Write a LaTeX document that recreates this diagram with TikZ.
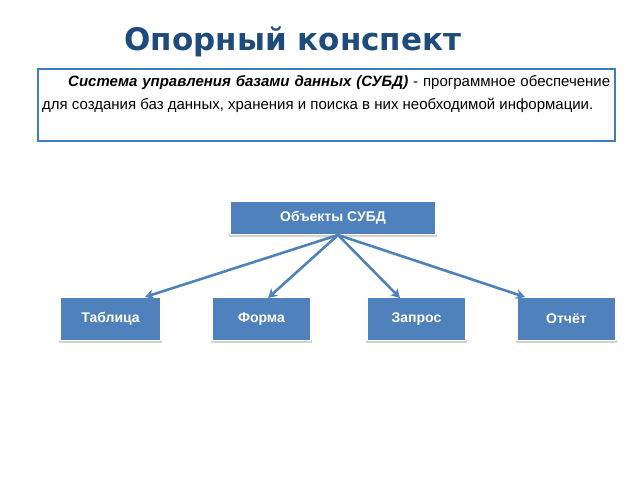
\documentclass[tikz,border=0pt]{standalone}
\usepackage{fontspec}
\setmainfont{Liberation Sans}
\newfontfamily\titlefont{DejaVu Sans}
\usetikzlibrary{arrows.meta}
\definecolor{boxblue}{HTML}{4F81BD}
\definecolor{titleblue}{HTML}{1F4A7E}
\definecolor{frameblue}{HTML}{3C7DC4}
\tikzset{
  obj/.style={fill=boxblue, draw=white, line width=1pt, text=white, font=\bfseries\fontsize{14}{16}\selectfont, inner sep=0pt, anchor=north west},
  shade/.style={fill=gray!35},
  conn/.style={draw=boxblue, line width=2.6pt, -{Stealth[length=9pt,width=10pt]}}
}
\begin{document}
\begin{tikzpicture}[x=1pt,y=-1pt]
\useasboundingbox (0,0) rectangle (640,480);
\node[text=titleblue, font=\titlefont\bfseries\fontsize{31}{34}\selectfont] (title) at (293,42) {Опорный конспект};
\node[draw=frameblue, line width=1.8pt, anchor=north west, minimum width=577pt, minimum height=72pt, inner sep=0pt] (def) at (37,68) {};
\node[anchor=north west, text width=568pt, align=justify, inner sep=0pt, font=\fontsize{15}{23}\selectfont] (deftext) at (42,75)
  {\hspace*{26pt}\textbf{\textit{Система управления базами данных (СУБД)}} - программное обеспечение для создания баз данных, хранения и поиска в них необходимой информации.};
% shadows
\foreach \x/\y/\w/\h in {230/201/205/33, 60/297/100/43, 212/297/98/43, 367/297/98/43, 517/297/98/43}
  \fill[shade] (\x-1,\y+\h) rectangle (\x+\w+2,\y+\h+3);
\node[obj, minimum width=205pt, minimum height=33pt] (root) at (230,201) {Объекты СУБД};
\node[obj, minimum width=100pt, minimum height=43pt] (t) at (60,297) {Таблица};
\node[obj, minimum width=98pt, minimum height=43pt] (f) at (212,297) {Форма};
\node[obj, minimum width=98pt, minimum height=43pt] (q) at (367,297) {Запрос};
\node[obj, minimum width=98pt, minimum height=43pt] (r) at (517,297) {Отчёт};
\coordinate (s) at (338,235);
\draw[conn] (s) -- (t.north east -| 145,0);
\draw[conn] (s) -- (268,298) coordinate (fe);
\draw[conn] (s) -- (400,298);
\draw[conn] (s) -- (525,297);
\end{tikzpicture}
\end{document}
